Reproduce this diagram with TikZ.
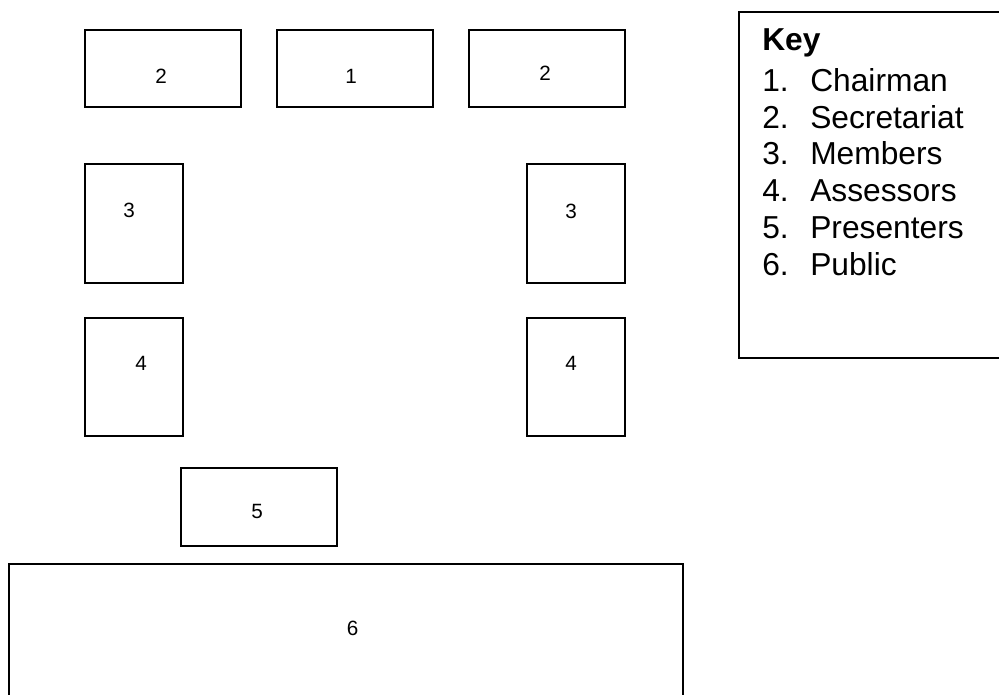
\documentclass[tikz,border=0pt]{standalone}
\usepackage{fontspec}
\setmainfont{Liberation Sans}
\usetikzlibrary{fit}
\begin{document}
\begin{tikzpicture}[x=0.75pt,y=-0.75pt,
  seat/.style={draw=black, line width=1.3pt, inner sep=0pt},
  num/.style={font=\fontsize{15.5}{18}\selectfont, inner sep=0pt, anchor=center},
  keytxt/.style={font=\fontsize{23.8}{27}\selectfont, inner sep=0pt, anchor=base west}]
\useasboundingbox (0,0) rectangle (999,694);
% boxes
\node[seat, fit={(85,30) (241,107)}] (b2l) {};
\node[seat, fit={(277,30) (433,107)}] (b1) {};
\node[seat, fit={(469,30) (625,107)}] (b2r) {};
\node[seat, fit={(85,164) (183,283)}] (b3l) {};
\node[seat, fit={(527,164) (625,283)}] (b3r) {};
\node[seat, fit={(85,318) (183,436)}] (b4l) {};
\node[seat, fit={(527,318) (625,436)}] (b4r) {};
\node[seat, fit={(181,468) (337,546)}] (b5) {};
\node[seat, fit={(9,564) (683,710)}] (b6) {};
\node[seat, fit={(739,12) (1010,358)}] (key) {};
% labels
\node[num] (l2l) at (161,76.5) {2};
\node[num] (l1) at (351,76.5) {1};
\node[num] (l2r) at (545,73) {2};
\node[num] (l3l) at (129,210) {3};
\node[num] (l3r) at (571,211) {3};
\node[num] (l4l) at (141,363.5) {4};
\node[num] (l4r) at (571,363.5) {4};
\node[num] (l5) at (257,511.5) {5};
\node[num] (l6) at (352.5,628) {6};
% key text
\node[keytxt, font=\fontsize{23.8}{27}\selectfont\bfseries] (kh) at (762,50) {Key};
\node[keytxt] (k1n) at (762,91.5) {1.};
\node[keytxt] (k1) at (810,91.5) {Chairman};
\node[keytxt] (k2n) at (762,128.2) {2.};
\node[keytxt] (k2) at (810,128.2) {Secretariat};
\node[keytxt] (k3n) at (762,164.9) {3.};
\node[keytxt] (k3) at (810,164.9) {Members};
\node[keytxt] (k4n) at (762,201.6) {4.};
\node[keytxt] (k4) at (810,201.6) {Assessors};
\node[keytxt] (k5n) at (762,238.3) {5.};
\node[keytxt] (k5) at (810,238.3) {Presenters};
\node[keytxt] (k6n) at (762,275) {6.};
\node[keytxt] (k6) at (810,275) {Public};
\end{tikzpicture}
\end{document}
